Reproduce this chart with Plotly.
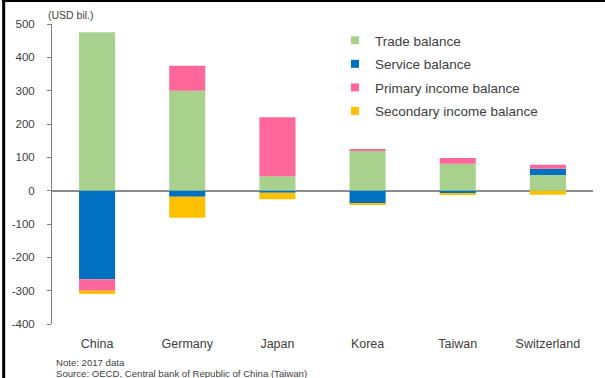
import plotly.graph_objects as go

# Current account components by economy, 2017 (USD bil.)
countries = ["China", "Germany", "Japan", "Korea", "Taiwan", "Switzerland"]
trade_balance = [475, 300, 43, 120, 81, 47]
service_balance = [-266, -18, -6, -37, -8, 19]
primary_income = [-34, 75, 177, 3, 17, 12]
secondary_income = [-10, -63, -20, -4, -4, -12]

series_names = ["Trade balance", "Service balance",
                "Primary income balance", "Secondary income balance"]
series_values = [trade_balance, service_balance, primary_income, secondary_income]
series_colors = ["#A9D18E", "#0070C0", "#FF6699", "#FFC000"]

y_ticks = [-400, -300, -200, -100, 0, 100, 200, 300, 400, 500]
y_tick_labels = ["-400", "-300", "-200", "-100", "0", "100", "200", "300", "400", "500"]

W, H = 605, 378
ML, MR, MT, MB = 50, 12, 24, 54
PW, PH = W - ML - MR, H - MT - MB


def px_x(px):
    return (px - ML) / PW


def px_y(py):
    return (H - MB - py) / PH


FONT = "Liberation Sans, Arial, sans-serif"
TXT = "#404040"

fig = go.Figure()
for i, (name, vals, col) in enumerate(zip(series_names, series_values, series_colors)):
    fig.add_trace(go.Bar(
        x=countries, y=vals, name=name,
        marker=dict(color=col, line=dict(width=0)),
        showlegend=False,
    ))
    # small square legend keys
    fig.add_trace(go.Scatter(
        x=[None], y=[None], mode="markers", name=name,
        marker=dict(symbol="square", size=8, color=col),
        legendgroup=f"g{i}", showlegend=True,
    ))

fig.update_layout(
    width=W, height=H,
    margin=dict(l=ML, r=MR, t=MT, b=MB),
    paper_bgcolor="white", plot_bgcolor="white",
    barmode="relative", bargap=0.6,
    font=dict(family=FONT, color=TXT),
    legend=dict(
        x=px_x(334), y=px_y(25), xanchor="left", yanchor="top",
        font=dict(size=13.5, color=TXT), tracegroupgap=3,
        itemwidth=30, bgcolor="rgba(0,0,0,0)",
    ),
    xaxis=dict(
        showline=False, showgrid=False, ticks="",
        tickfont=dict(size=12.5, color=TXT), ticklabelstandoff=10,
    ),
    yaxis=dict(
        range=[-400, 500], tickvals=y_ticks, ticktext=y_tick_labels,
        showgrid=False, showline=True, linecolor="#7f7f7f", linewidth=1,
        ticks="outside", ticklen=4, tickcolor="#7f7f7f",
        tickfont=dict(size=11.5, color=TXT), ticklabelstandoff=10,
        zeroline=True, zerolinecolor="#8c8c8c", zerolinewidth=1.5,
        layer="above traces",
    ),
    shapes=[
        # frame edges on top and left
        dict(type="rect", xref="paper", yref="paper",
             x0=px_x(0), x1=px_x(3), y0=px_y(H), y1=px_y(0),
             fillcolor="black", line=dict(width=0), layer="above"),
        dict(type="rect", xref="paper", yref="paper",
             x0=px_x(0), x1=px_x(W), y0=px_y(2), y1=px_y(0),
             fillcolor="black", line=dict(width=0), layer="above"),
    ],
    annotations=[
        dict(text="(USD bil.)", xref="paper", yref="paper",
             x=px_x(44), y=px_y(15), xanchor="left", yanchor="middle",
             showarrow=False, font=dict(size=10.5, color=TXT)),
        dict(text="Note: 2017 data", xref="paper", yref="paper",
             x=px_x(52), y=px_y(363), xanchor="left", yanchor="middle",
             showarrow=False, font=dict(size=9.6, color=TXT)),
        dict(text="Source: OECD, Central bank of Republic of China (Taiwan)",
             xref="paper", yref="paper",
             x=px_x(52), y=px_y(373.5), xanchor="left", yanchor="middle",
             showarrow=False, font=dict(size=9.6, color=TXT)),
    ],
)

fig.write_html("out.html")
